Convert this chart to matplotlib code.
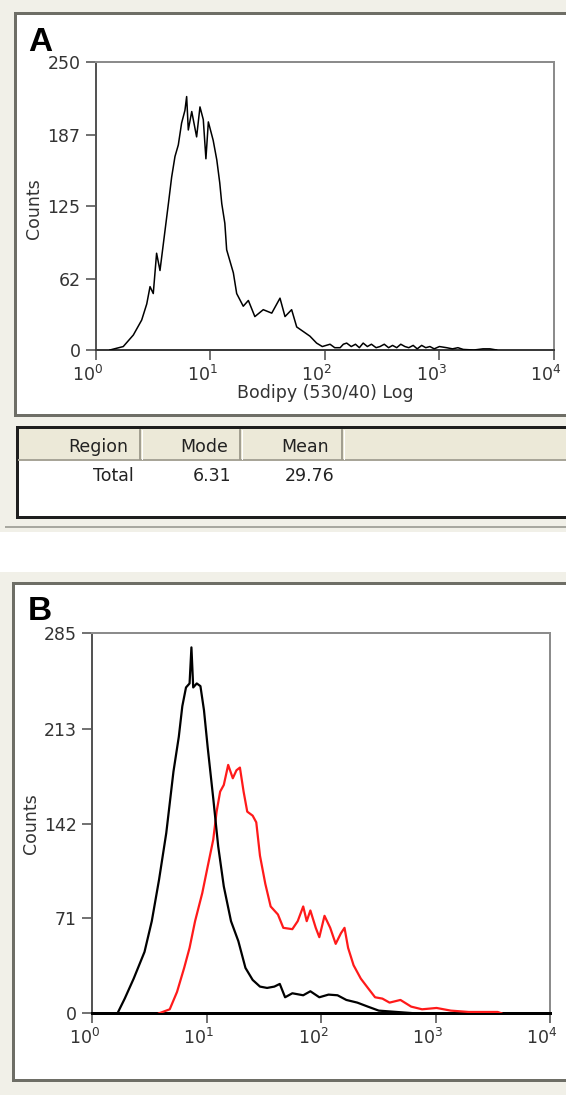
import matplotlib
matplotlib.use('Agg')
import matplotlib.pyplot as plt
from matplotlib.patches import Rectangle
from matplotlib.ticker import FixedLocator, NullLocator
import matplotlib.transforms as mtrans

plt.rcParams['font.family'] = ['DejaVu Sans']

# ---------------- data ----------------
a_fluor = [1.33, 1.74, 2.13, 2.52, 2.79, 2.98, 3.18, 3.40, 3.64, 4.03, 4.31, 4.60,
           4.92, 5.26, 5.62, 6.01, 6.22, 6.43, 6.89, 7.60, 8.13, 8.69, 9.16, 9.62,
           10.6, 11.4, 12.1, 12.6, 13.4, 13.9, 15.9, 17.0, 19.4, 21.5, 24.5, 29.0,
           34.4, 40.6, 44.9, 51.3, 56.8, 64.9, 74.1, 84.7, 95, 111, 122, 136, 145,
           155, 170, 185, 200, 216, 235, 255, 280, 303, 330, 360, 390, 424, 460,
           500, 540, 590, 640, 700, 760, 826, 900, 1000, 1156, 1300, 1450, 1614,
           2000, 2400, 2761, 3155]
a_counts = [0, 3, 13, 26, 40, 55, 49, 84, 69, 104, 127, 150,
            168, 178, 197, 208, 220, 191, 207, 185, 211, 200, 166, 198,
            182, 165, 145, 127, 110, 87, 67, 49, 38, 43, 29, 35,
            32, 45, 29, 35, 20, 16, 12, 6, 3, 5, 2, 2, 5,
            6, 3, 5, 2, 6, 3, 5, 2, 3, 5, 2, 4, 2, 5,
            3, 2, 4, 1, 4, 2, 3, 1, 3, 2, 1, 2, 0.5,
            0, 1, 1, 0]

b_ctrl_fluor = [1.66, 1.92, 2.30, 2.86, 3.31, 3.83, 4.43, 5.12, 5.70, 6.12, 6.59,
                7.08, 7.35, 7.62, 8.18, 8.81, 9.46, 10.2, 11.4, 12.6, 14.1, 16.3,
                18.9, 21.8, 25.2, 29.2, 33.7, 39.0, 43.5, 48.4, 56.0, 69.7, 80.5,
                96.4, 116, 139, 166, 207, 256, 319, 458, 661]
b_ctrl_counts = [0, 11, 26, 46, 69, 100, 135, 181, 207, 230, 244,
                 247, 274, 244, 247, 245, 227, 199, 161, 125, 95, 69,
                 54, 34, 25, 20, 19, 20, 22, 12, 15, 13.5, 16.5,
                 12, 14, 13.5, 10, 8, 5, 2, 1, 0]

b_treat_fluor = [3.83, 4.75, 5.50, 6.35, 7.08, 7.91, 9.14, 10.2, 11.4, 12.2, 13.1,
                 14.1, 15.4, 16.9, 18.2, 19.5, 21.0, 22.6, 25.2, 27.1, 29.2, 32.5,
                 36.2, 41.9, 46.7, 56.0, 62.4, 69.7, 74.8, 80.5, 89.7, 96.4, 107,
                 120, 134, 149, 160, 172, 192, 222, 256, 296, 343, 396, 493, 612,
                 762, 1020, 1360, 1950, 3490, 3760]
b_treat_counts = [0, 3, 16, 34, 49, 69, 90, 110, 130, 151, 166,
                  171, 186, 176, 182, 184, 166, 151, 148, 143, 118, 97,
                  80, 74, 64, 63, 69, 80, 69, 77, 64, 57, 73,
                  64, 52, 60, 64, 49, 36, 26, 19, 12, 11, 8, 10, 5,
                  3, 4, 2, 1, 1, 0]

a_yticks = [0, 62, 125, 187, 250]
b_yticks = [0, 71, 142, 213, 285]
x_decades = [1, 10, 100, 1000, 10000]
x_tick_labels = [r'$\mathregular{10^{0}}$', r'$\mathregular{10^{1}}$',
                 r'$\mathregular{10^{2}}$', r'$\mathregular{10^{3}}$',
                 r'$\mathregular{10^{4}}$']
a_xlabel = 'Bodipy (530/40) Log'
y_label = 'Counts'
table_columns = ['Region', 'Mode', 'Mean']
table_row = ['Total', '6.31', '29.76']
panel_labels = ['A', 'B']

# ---------------- figure ----------------
W, H = 566, 1095
PX = 0.72  # points per pixel at dpi 100
fig = plt.figure(figsize=(W / 100, H / 100), dpi=100)
fig.patch.set_facecolor('white')

bg = fig.add_axes([0, 0, 1, 1], zorder=0)
bg.set_xlim(0, W)
bg.set_ylim(H, 0)
bg.axis('off')

CREAM = '#F1F0E8'
FRAME = '#6E6E66'
TXT = '#333333'


def rect(x0, y0, x1, y1, **kw):
    bg.add_patch(Rectangle((x0, y0), x1 - x0, y1 - y0, **kw))


# Panel A window
rect(0, 0, W, 532, facecolor=CREAM, edgecolor='none')
rect(15, 13, W + 10, 415, facecolor='white', edgecolor=FRAME, linewidth=3 * PX)
# statistics table
rect(17, 427, W + 10, 517, facecolor='white', edgecolor='#1E1E1E', linewidth=3 * PX)
rect(18.5, 428.5, W, 460, facecolor='#ECE9D8', edgecolor='none')
bg.plot([18.5, W], [460, 460], color='#A8A598', lw=2 * PX)
for xs in [140, 240, 342]:
    bg.plot([xs, xs], [430, 459], color='#9A9788', lw=1.8 * PX)
    bg.plot([xs + 1.6, xs + 1.6], [430, 459], color='white', lw=1 * PX)
bg.plot([6, W], [527, 527], color='#A8A8A0', lw=2 * PX)

for txt, xr in zip(table_columns, [128, 228, 329]):
    bg.text(xr, 447, txt, ha='right', va='center', fontsize=12.5, color='#222222')
for txt, xr in zip(table_row, [134, 231, 334]):
    bg.text(xr, 476, txt, ha='right', va='center', fontsize=12.5, color='#222222')

# Panel B window
rect(0, 572, W, H, facecolor=CREAM, edgecolor='none')
rect(13, 583, W + 10, 1080, facecolor='white', edgecolor=FRAME, linewidth=3 * PX)

# panel letters and axis labels
bg.text(28, 51, panel_labels[0], fontsize=24, fontweight='bold', ha='left',
        va='baseline', family='Liberation Sans', color='black')
bg.text(28, 620, panel_labels[1], fontsize=24, fontweight='bold', ha='left',
        va='baseline', family='Liberation Sans', color='black')
bg.text(34, 209, y_label, rotation=90, ha='center', va='center', fontsize=12.5, color=TXT)
bg.text(31, 824, y_label, rotation=90, ha='center', va='center', fontsize=12.5, color=TXT)
bg.text(325, 393, a_xlabel, ha='center', va='center', fontsize=12.5, color=TXT)

# plot axes
axA = fig.add_axes([95.7 / W, 1 - 350 / H, (554 - 95.7) / W, 288 / H], zorder=2)
axB = fig.add_axes([92.3 / W, 1 - 1013.3 / H, (550 - 92.3) / W, 380.6 / H], zorder=2)


def style(ax, yticks, bottom_color, bottom_lw):
    ax.set_facecolor('none')
    ax.set_xscale('log')
    ax.set_xlim(x_decades[0], x_decades[-1])
    ax.xaxis.set_major_locator(FixedLocator(x_decades))
    ax.xaxis.set_minor_locator(NullLocator())
    ax.set_xticklabels(x_tick_labels)
    ax.set_yticks(yticks)
    ax.set_ylim(yticks[0], yticks[-1])
    ax.yaxis.set_minor_locator(NullLocator())
    for s in ['top', 'right']:
        ax.spines[s].set_color('#8C8C8C')
        ax.spines[s].set_linewidth(2 * PX)
    ax.spines['left'].set_color('#555555')
    ax.spines['left'].set_linewidth(2 * PX)
    ax.spines['bottom'].set_color(bottom_color)
    ax.spines['bottom'].set_linewidth(bottom_lw)
    ax.tick_params(direction='out', length=7.5, width=1.1, color='#4A4A4A',
                   labelsize=12.5, labelcolor=TXT)
    ax.tick_params(axis='y', pad=3.5)
    ax.tick_params(axis='x', pad=3)
    offset = mtrans.ScaledTranslation(-8 / 100, 0, fig.dpi_scale_trans)
    for lab in ax.get_xticklabels():
        lab.set_transform(lab.get_transform() + offset)


style(axA, a_yticks, '#3A3A3A', 2 * PX)
style(axB, b_yticks, '#000000', 3 * PX)

axA.plot(a_fluor, a_counts, color='black', lw=1.1, zorder=3)
axB.plot(b_treat_fluor, b_treat_counts, color='#FF1A1A', lw=1.6, zorder=3)
axB.plot(b_ctrl_fluor, b_ctrl_counts, color='black', lw=1.6, zorder=4)

fig.savefig('out.png', dpi=100)
